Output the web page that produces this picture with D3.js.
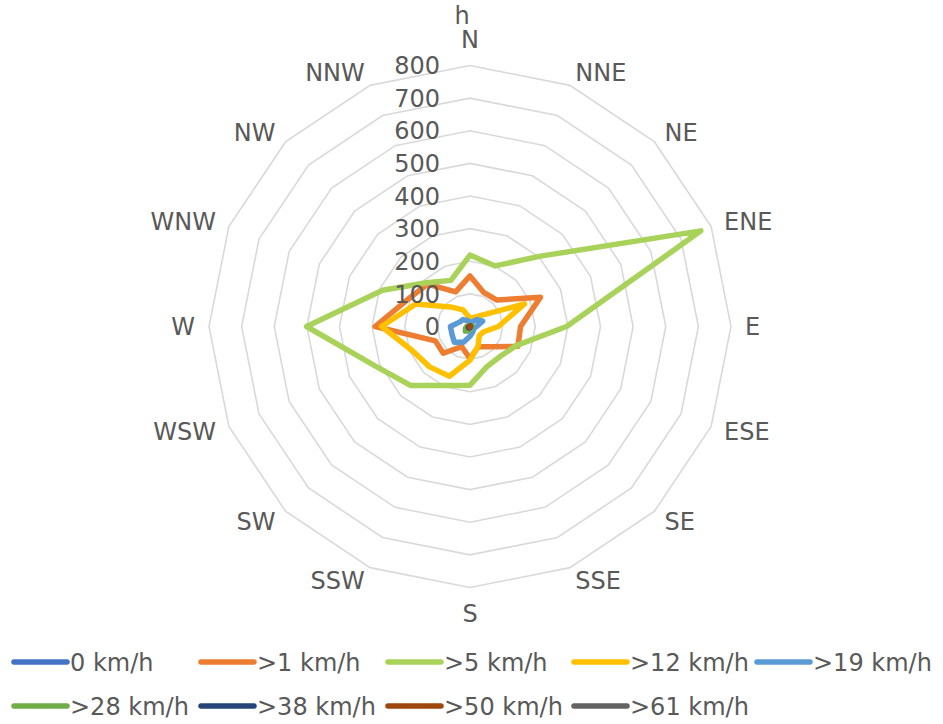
<!DOCTYPE html>
<html>
<head>
<meta charset="utf-8">
<script src="https://cdn.jsdelivr.net/npm/d3@7"></script>
<style>
  body { margin: 0; background: #fff; }
  svg text { font-family: "DejaVu Sans", Verdana, sans-serif; fill: #595959; }
</style>
</head>
<body>
<svg id="chart"></svg>
<script>
const directions = ["N", "NNE", "NE", "ENE", "E", "ESE", "SE", "SSE",
  "S", "SSW", "SW", "WSW", "W", "WNW", "NW", "NNW"];
const tickValues = [0, 100, 200, 300, 400, 500, 600, 700, 800];

// hours per direction, N clockwise
const kmh0 = [0, 0, 0, 0, 0, 0, 0, 0, 0, 0, 0, 0, 0, 0, 0, 0];
const kmh1 = [155, 112, 115, 234, 155, 159, 88, 67, 98, 67, 116, 115, 291, 210, 184, 115];
const kmh5 = [219, 201, 305, 766, 296, 153, 130, 134, 180, 196, 256, 315, 501, 290, 190, 153];
const kmh12 = [25, 30, 48, 181, 87, 44, 40, 65, 103, 165, 175, 192, 271, 180, 85, 55];
const kmh19 = [12, 15, 30, 42, 20, 12, 15, 20, 30, 52, 68, 60, 60, 35, 30, 20];
const kmh28 = [3, 4, 5, 6, 4, 3, 3, 4, 8, 15, 20, 15, 10, 6, 4, 3];
const kmh38 = [1, 1, 2, 2, 1, 1, 1, 2, 3, 5, 6, 5, 3, 2, 1, 1];
const kmh50 = [1, 1, 1, 1, 1, 1, 1, 1, 1, 2, 2, 2, 1, 1, 1, 1];
const kmh61 = [0, 0, 0, 0, 0, 0, 0, 0, 0, 0, 0, 0, 0, 0, 0, 0];

const seriesNames = ["0 km/h", ">1 km/h", ">5 km/h", ">12 km/h", ">19 km/h",
  ">28 km/h", ">38 km/h", ">50 km/h", ">61 km/h"];
const seriesColors = ["#4472C4", "#ED7D31", "#A9D25A", "#FFC000", "#5B9BD5",
  "#70AD47", "#264478", "#9E480E", "#636363"];
const series = [kmh0, kmh1, kmh5, kmh12, kmh19, kmh28, kmh38, kmh50, kmh61];

const W = 943, H = 724;
const cx = 470, cy = 326.5, R = 261;

const svg = d3.select("#chart").attr("width", W).attr("height", H);

const angle = d3.scalePoint().domain(directions)
  .range([0, 2 * Math.PI * 15 / 16]);
const r = d3.scaleLinear().domain([0, 800]).range([0, R]);

const g = svg.append("g").attr("transform", `translate(${cx},${cy})`);

// grid polygons
const gridLine = d3.lineRadial()
  .angle((d) => angle(d))
  .curve(d3.curveLinearClosed);

g.selectAll(".grid")
  .data(tickValues.slice(1))
  .enter()
  .append("path")
  .attr("class", "grid")
  .attr("d", (v) => gridLine.radius(r(v))(directions))
  .attr("fill", "none")
  .attr("stroke", "#D9D9D9")
  .attr("stroke-width", 1.6);

// series
const line = d3.lineRadial()
  .angle((d, i) => angle(directions[i]))
  .radius((d) => r(d))
  .curve(d3.curveLinearClosed);

g.selectAll(".series")
  .data(series)
  .enter()
  .append("path")
  .attr("class", "series")
  .attr("d", (d) => line(d))
  .attr("fill", "none")
  .attr("stroke", (d, i) => seriesColors[i])
  .attr("stroke-width", 5.5)
  .attr("stroke-linejoin", "round");

// tick labels
g.selectAll(".tick")
  .data(tickValues)
  .enter()
  .append("text")
  .attr("class", "tick")
  .attr("x", -30)
  .attr("y", (v) => -r(v))
  .attr("dy", "0.36em")
  .attr("text-anchor", "end")
  .attr("font-size", "24px")
  .text((v) => v);

svg.append("text")
  .attr("x", 462)
  .attr("y", 15)
  .attr("dy", "0.36em")
  .attr("text-anchor", "middle")
  .attr("font-size", "24px")
  .text("h");

// direction labels
g.selectAll(".dir")
  .data(directions)
  .enter()
  .append("text")
  .attr("class", "dir")
  .attr("x", (d) => (R + 14) * Math.sin(angle(d)))
  .attr("y", (d) => {
    const c = Math.cos(angle(d));
    const extra = Math.abs(c) > 0.99 ? 12 * Math.sign(c) : 0;
    return -(R + 14) * c - extra;
  })
  .attr("dy", "0.36em")
  .attr("text-anchor", (d) => {
    const s = Math.sin(angle(d));
    return s > 0.1 ? "start" : s < -0.1 ? "end" : "middle";
  })
  .attr("font-size", "24px")
  .text((d) => d);

// legend
const legendCols = [12, 199, 386, 572, 755];
const legendRows = [662, 706];

const legend = svg.selectAll(".legend")
  .data(seriesNames)
  .enter()
  .append("g")
  .attr("class", "legend")
  .attr("transform", (d, i) =>
    `translate(${legendCols[i % 5]},${legendRows[Math.floor(i / 5)]})`);

legend.append("line")
  .attr("x1", 2)
  .attr("x2", 55)
  .attr("stroke", (d, i) => seriesColors[i])
  .attr("stroke-width", 5.5)
  .attr("stroke-linecap", "round");

legend.append("text")
  .attr("x", 58)
  .attr("dy", "0.36em")
  .attr("font-size", "24px")
  .text((d) => d);
</script>
</body>
</html>
